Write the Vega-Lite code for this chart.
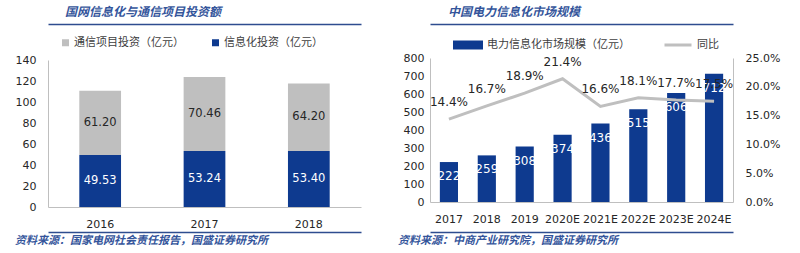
{
  "$schema": "https://vega.github.io/schema/vega-lite/v6.json",
  "padding": {"left": 7, "top": 6, "right": 0, "bottom": 0},
  "background": "white",
  "config": {
    "view": {"stroke": null},
    "font": "DejaVu Sans",
    "axis": {"grid": false, "ticks": false, "domainColor": "#BFBFBF", "labelColor": "#262626", "labelFontSize": 11, "labelFont": "DejaVu Sans", "title": null, "labelOverlap": false}
  },
  "spacing": -25,
  "resolve": {"scale": {"color": "independent", "fill": "independent", "stroke": "independent"}, "legend": {"color": "independent", "fill": "independent", "stroke": "independent"}},
  "hconcat": [
    {
      "spacing": 3,
      "columns": 1,
      "align": "none",
      "resolve": {"scale": {"color": "independent"}, "legend": {"color": "independent"}},
      "concat": [
        {
          "width": 362, "height": 1,
          "title": {"text": "国网信息化与通信项目投资额", "anchor": "start", "dx": 17, "offset": 1, "font": "Noto Sans CJK SC", "fontSize": 12, "fontStyle": "italic", "fontWeight": "bold", "color": "#34559B"},
          "data": {"values": []},
          "mark": "rule",
          "encoding": {}
        },
        {
          "width": 313, "height": 147,
          "data": {"values": [
            {"year": "2016", "series": "通信项目投资（亿元）", "value": 61.20},
            {"year": "2016", "series": "信息化投资（亿元）", "value": 49.53},
            {"year": "2017", "series": "通信项目投资（亿元）", "value": 70.46},
            {"year": "2017", "series": "信息化投资（亿元）", "value": 53.24},
            {"year": "2018", "series": "通信项目投资（亿元）", "value": 64.20},
            {"year": "2018", "series": "信息化投资（亿元）", "value": 53.40}
          ]},
          "layer": [
            {
              "mark": {"type": "bar"},
              "encoding": {
                "x": {"field": "year", "type": "nominal", "scale": {"paddingInner": 0.6, "paddingOuter": 0.3}, "axis": {"orient": "bottom", "labelAngle": 0, "labelPadding": 11}},
                "y": {"field": "value", "type": "quantitative", "stack": "zero", "scale": {"domain": [0, 140]}, "axis": {"values": [0, 20, 40, 60, 80, 100, 120, 140], "labelOverlap": false, "minExtent": 41, "labelPadding": 12}},
                "order": {"field": "series", "sort": "ascending"},
                "color": {"field": "series", "type": "nominal", "scale": {"domain": ["通信项目投资（亿元）", "信息化投资（亿元）"], "range": ["#BFBFBF", "#0E3A8F"]},
                  "legend": {"orient": "none", "legendX": 3, "legendY": -32, "padding": 9, "direction": "horizontal", "title": null, "symbolType": "square", "symbolSize": 49, "symbolStrokeWidth": 0, "columnPadding": 26, "labelOffset": 3, "labelFont": "Noto Sans CJK SC", "labelFontSize": 11, "labelColor": "#404040"}}
              }
            },
            {
              "transform": [
                {"stack": "value", "groupby": ["year"], "sort": [{"field": "series", "order": "ascending"}], "as": ["v0", "v1"]},
                {"calculate": "(datum.v0 + datum.v1) / 2", "as": "mid"},
                {"filter": "datum.series === '通信项目投资（亿元）'"}
              ],
              "mark": {"type": "text", "fontSize": 11.5, "font": "DejaVu Sans", "baseline": "middle", "color": "#262626"},
              "encoding": {
                "x": {"field": "year", "type": "nominal", "axis": {"orient": "top", "offset": 36, "labels": false, "domainColor": "#2E4D8F", "domainWidth": 1.5}},
                "y": {"field": "mid", "type": "quantitative", "axis": {"values": [0, 20, 40, 60, 80, 100, 120, 140], "labelOverlap": false, "minExtent": 41, "labelPadding": 12}},
                "text": {"field": "value", "type": "quantitative", "format": ".2f"}
              }
            },
            {
              "transform": [
                {"stack": "value", "groupby": ["year"], "sort": [{"field": "series", "order": "ascending"}], "as": ["v0", "v1"]},
                {"calculate": "(datum.v0 + datum.v1) / 2", "as": "mid"},
                {"filter": "datum.series === '信息化投资（亿元）'"}
              ],
              "mark": {"type": "text", "fontSize": 11.5, "font": "DejaVu Sans", "baseline": "middle", "color": "white"},
              "encoding": {
                "x": {"field": "year", "type": "nominal", "axis": {"orient": "bottom", "offset": 25, "labels": false, "domainColor": "#2E4D8F", "domainWidth": 1.5}},
                "y": {"field": "mid", "type": "quantitative", "axis": {"values": [0, 20, 40, 60, 80, 100, 120, 140], "labelOverlap": false, "minExtent": 41, "labelPadding": 12}},
                "text": {"field": "value", "type": "quantitative", "format": ".2f"}
              }
            }
          ],
          "resolve": {"axis": {"x": "independent"}}
        },
        {
          "width": 362, "height": 1,
          "title": {"text": "资料来源：国家电网社会责任报告，国盛证券研究所", "orient": "bottom", "anchor": "start", "dx": -33, "offset": -3, "font": "Noto Sans CJK SC", "fontSize": 11, "fontStyle": "italic", "fontWeight": "bold", "color": "#34559B"},
          "data": {"values": []},
          "mark": "rule",
          "encoding": {}
        }
      ]
    },
    {
      "spacing": 3,
      "columns": 1,
      "align": "none",
      "resolve": {"scale": {"fill": "independent", "stroke": "independent"}, "legend": {"fill": "independent", "stroke": "independent"}},
      "concat": [
        {
          "width": 405, "height": 1,
          "title": {"text": "中国电力信息化市场规模", "anchor": "start", "dx": 18, "offset": 1, "font": "Noto Sans CJK SC", "fontSize": 12, "fontStyle": "italic", "fontWeight": "bold", "color": "#34559B"},
          "data": {"values": []},
          "mark": "rule",
          "encoding": {}
        },
        {
          "width": 303, "height": 144,
          "data": {"values": [
            {"year": "2017", "size": 222, "yoy": 0.144},
            {"year": "2018", "size": 259, "yoy": 0.167},
            {"year": "2019", "size": 308, "yoy": 0.189},
            {"year": "2020E", "size": 374, "yoy": 0.214},
            {"year": "2021E", "size": 436, "yoy": 0.166},
            {"year": "2022E", "size": 515, "yoy": 0.181},
            {"year": "2023E", "size": 606, "yoy": 0.177},
            {"year": "2024E", "size": 712, "yoy": 0.175}
          ]},
          "layer": [
            {
              "encoding": {
                "y": {"field": "size", "type": "quantitative", "scale": {"domain": [0, 800]}, "axis": {"values": [0, 100, 200, 300, 400, 500, 600, 700, 800], "labelOverlap": false, "minExtent": 45, "labelPadding": 6}}
              },
              "layer": [
                {
                  "mark": {"type": "bar"},
                  "encoding": {
                    "x": {"field": "year", "type": "nominal", "sort": null, "scale": {"paddingInner": 0.52, "paddingOuter": 0.26}, "axis": {"orient": "bottom", "labelAngle": 0, "labelPadding": 11}},
                    "fill": {"datum": "电力信息化市场规模（亿元）", "type": "nominal", "scale": {"range": ["#0E3A8F"]},
                      "legend": {"orient": "none", "legendX": 18, "legendY": -33, "padding": 5, "title": null, "symbolType": "M-1,-0.3H1V0.3H-1Z", "symbolSize": 900, "symbolStrokeWidth": 0, "labelOffset": 4, "labelFont": "Noto Sans CJK SC", "labelFontSize": 11, "labelColor": "#404040"}}
                  }
                },
                {
                  "mark": {"type": "text", "color": "white", "fontSize": 12, "font": "DejaVu Sans", "baseline": "middle", "dy": 14},
                  "encoding": {
                    "x": {"field": "year", "type": "nominal", "sort": null, "axis": {"orient": "top", "offset": 34, "labels": false, "domainColor": "#2E4D8F", "domainWidth": 1.5}},
                    "text": {"field": "size", "type": "quantitative"}
                  }
                }
              ],
              "resolve": {"axis": {"x": "independent"}}
            },
            {
              "encoding": {
                "y": {"field": "yoy", "type": "quantitative", "scale": {"domain": [0, 0.25]}, "axis": {"orient": "right", "values": [0, 0.05, 0.1, 0.15, 0.2, 0.25], "labelOverlap": false, "format": ".1%", "minExtent": 57, "labelPadding": 12}}
              },
              "layer": [
                {
                  "mark": {"type": "line", "strokeWidth": 3},
                  "encoding": {
                    "x": {"field": "year", "type": "nominal", "sort": null, "axis": {"orient": "bottom", "offset": 30, "labels": false, "domainColor": "#2E4D8F", "domainWidth": 1.5}},
                    "stroke": {"datum": "同比", "type": "nominal", "scale": {"range": ["#BFBFBF"]},
                      "legend": {"orient": "none", "legendX": 228, "legendY": -33, "padding": 5, "title": null, "symbolType": "stroke", "symbolSize": 729, "symbolStrokeWidth": 3, "labelOffset": 4, "labelFont": "Noto Sans CJK SC", "labelFontSize": 11, "labelColor": "#404040"}}
                  }
                },
                {
                  "mark": {"type": "text", "color": "#262626", "fontSize": 12, "font": "DejaVu Sans", "baseline": "middle", "dy": -17},
                  "encoding": {
                    "x": {"field": "year", "type": "nominal", "sort": null, "axis": null},
                    "text": {"field": "yoy", "type": "quantitative", "format": ".1%"}
                  }
                }
              ],
              "resolve": {"axis": {"x": "independent"}}
            }
          ],
          "resolve": {"scale": {"y": "independent"}, "axis": {"x": "independent"}}
        },
        {
          "width": 405, "height": 1,
          "title": {"text": "资料来源：中商产业研究院，国盛证券研究所", "orient": "bottom", "anchor": "start", "dx": -32, "offset": -3, "font": "Noto Sans CJK SC", "fontSize": 11, "fontStyle": "italic", "fontWeight": "bold", "color": "#34559B"},
          "data": {"values": []},
          "mark": "rule",
          "encoding": {}
        }
      ]
    }
  ]
}
